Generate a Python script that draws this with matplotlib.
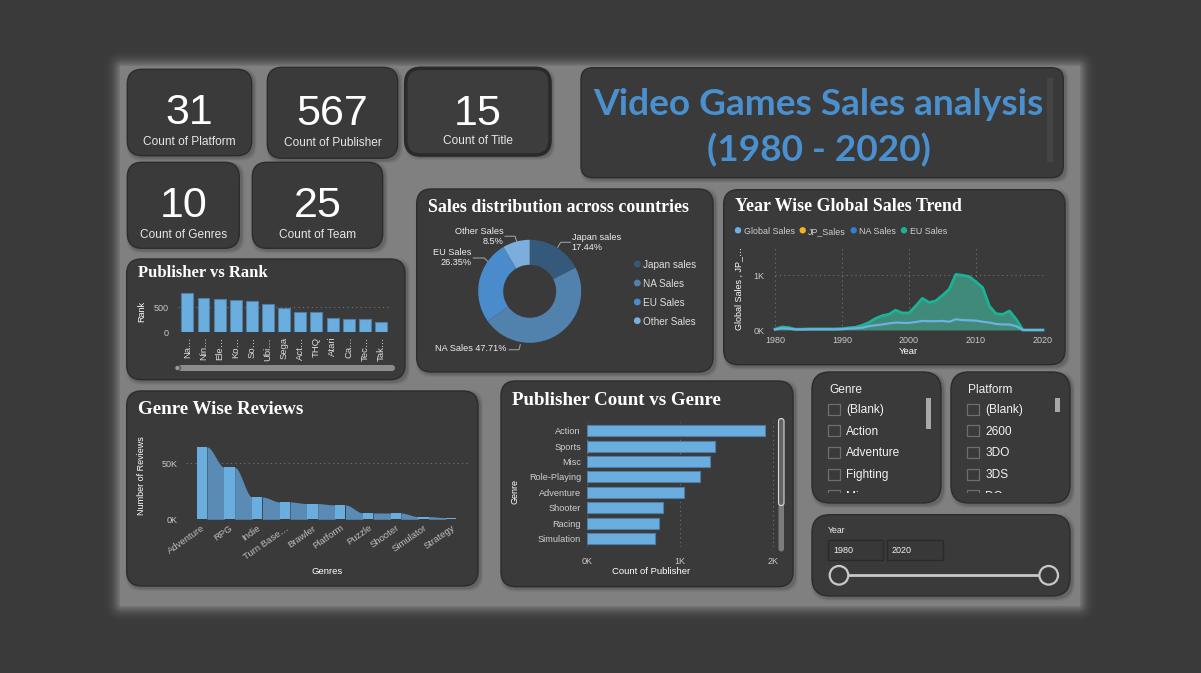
import matplotlib
matplotlib.use("Agg")
import matplotlib.pyplot as plt
import numpy as np
from matplotlib.patches import FancyBboxPatch, Rectangle, Circle
from matplotlib.lines import Line2D

# ---------------- data ----------------
kpi_values = [31, 567, 15, 10, 25]
kpi_labels = ["Count of Platform", "Count of Publisher", "Count of Title",
              "Count of Genres", "Count of Team"]

rank_publishers = ["Na…", "Nin…", "Ele…", "Ko…", "So…", "Ubi…", "Sega",
                   "Act…", "THQ", "Atari", "Ca…", "Tec…", "Tak…"]
rank_values = [784, 682, 669, 655, 628, 574, 486, 412, 410, 284, 270, 257, 196]

review_genres = ["Adventure", "RPG", "Indie", "Turn Base…", "Brawler", "Platform",
                 "Puzzle", "Shooter", "Simulator", "Strategy"]
review_counts = [64600, 46400, 19900, 15500, 14000, 12800, 5700, 5600, 2400, 1500]

pub_genres = ["Action", "Sports", "Misc", "Role-Playing", "Adventure", "Shooter",
              "Racing", "Simulation"]
pub_counts = [1914, 1369, 1319, 1211, 1043, 814, 767, 724]

region_labels = ["Japan sales", "NA Sales", "EU Sales", "Other Sales"]
region_share = [17.44, 47.71, 26.35, 8.5]

years = list(range(1980, 2021))
eu_sales = [15, 55, 45, 15, 15, 20, 20, 20, 20, 20,
            25, 40, 50, 85, 135, 210, 260, 285, 360, 310,
            310, 435, 575, 500, 530, 630, 740, 1010, 995, 970,
            875, 770, 435, 295, 285, 345, 195, 0, 0, 0,
            0]
global_sales = [10, 30, 25, 10, 10, 12, 12, 12, 12, 12,
                15, 25, 30, 40, 70, 85, 100, 120, 135, 130,
                130, 145, 165, 160, 160, 165, 150, 195, 180, 175,
                170, 150, 135, 110, 100, 100, 70, 0, 0, 0,
                0]
trend_legend = ["Global Sales", "JP_Sales", "NA Sales", "EU Sales"]

genre_slicer_items = ["(Blank)", "Action", "Adventure", "Fighting", "Misc"]
platform_slicer_items = ["(Blank)", "2600", "3DO", "3DS", "DC"]
year_range = [1980, 2020]

title_lines = ["Video Games Sales analysis", "(1980 - 2020)"]

# ---------------- styling ----------------
SANS = ['Liberation Sans', 'DejaVu Sans']
SERIF = ['Liberation Serif', 'DejaVu Serif']
HEAD = ['Lato', 'DejaVu Sans']
plt.rcParams['font.family'] = SANS

PANEL = '#3a3a3a'
BAR = '#6aaee0'
BAR_EDGE = '#4e7ea6'
TICK = '#c8c8c8'
GRID = '#747474'
DOT = (0, (1, 3))

W, H = 1201, 673
fig = plt.figure(figsize=(W / 100, H / 100), dpi=100)
fig.patch.set_facecolor('#3a3a3a')

bg = fig.add_axes([0, 0, 1, 1])
bg.set_xlim(0, W)
bg.set_ylim(H, 0)
bg.axis('off')
bg.set_zorder(0)

renderer = fig.canvas.get_renderer()


def ax_px(x, y, w, h):
    a = fig.add_axes([x / W, 1 - (y + h) / H, w / W, h / H])
    a.set_zorder(2)
    a.patch.set_alpha(0)
    for s in a.spines.values():
        s.set_visible(False)
    a.tick_params(length=0, colors=TICK, labelsize=6.5)
    return a


def txt(x, y, s, size, color='white', ha='left', va='baseline', family=SANS,
        weight='normal', **kw):
    return bg.text(x, y, s, fontsize=size, color=color, ha=ha, va=va,
                   family=family, weight=weight, zorder=6, **kw)


def fit(t, width):
    bb = t.get_window_extent(renderer)
    t.set_fontsize(t.get_fontsize() * width / bb.width)
    return t


def panel(x0, y0, x1, y1, r=14, ec='#2c2c2c', lw=1.0, fc=PANEL):
    for k, a in [(3, 0.05), (2, 0.07), (1, 0.09)]:
        bg.add_patch(FancyBboxPatch((x0 + 2, y0 + 2), x1 - x0, y1 - y0,
                                    boxstyle=f"round,pad={k},rounding_size={r}",
                                    fc='black', ec='none', alpha=a, zorder=0.5))
    p = FancyBboxPatch((x0, y0), x1 - x0, y1 - y0,
                       boxstyle=f"round,pad=0,rounding_size={r}",
                       fc=fc, ec=ec, lw=lw, zorder=1)
    bg.add_patch(p)
    return p


# ---------------- canvas + soft glow ----------------
for k in range(20, 0, -1):
    a = 0.045 * np.exp(-((k / 9.0) ** 2)) + 0.004
    bg.add_patch(FancyBboxPatch((120, 66), 960, 540,
                                boxstyle=f"round,pad={k},rounding_size={k + 3}",
                                fc='white', ec='none', alpha=a, zorder=0.1))
bg.add_patch(Rectangle((120, 66), 960, 540, fc='#808080', ec='none', zorder=0.2))

# ---------------- KPI cards ----------------
cards = [(127.3, 69.3, 251.7, 155.7), (267.3, 67.3, 397.7, 158.3),
         (405.7, 68.3, 550, 155), (127.3, 162.3, 239.3, 248.3),
         (252.3, 162.3, 382.7, 248.3)]
num_base = [124.3, 125, 125, 217.3, 217.3]
lab_base = [145.3, 146, 143.6, 237.6, 237.6]
for i, (x0, y0, x1, y1) in enumerate(cards):
    if i == 2:
        panel(x0, y0, x1, y1, r=15, ec='#2a2a2a', lw=2.6, fc='#3d3d3d')
    else:
        panel(x0, y0, x1, y1, r=15)
    cx = (x0 + x1) / 2
    txt(cx, num_base[i], str(kpi_values[i]), 31, ha='center')
    txt(cx, lab_base[i], kpi_labels[i], 8.6, color='#e6e6e6', ha='center')

# ---------------- title box ----------------
panel(581, 67.7, 1063.3, 177.7, r=12)
bg.add_patch(Rectangle((1046.7, 78.3), 6, 83.4, fc='#444444', ec='none', zorder=2))
t1 = txt(818.5, 115, title_lines[0], 24, color='#4a90ce', ha='center',
         family=HEAD, weight='bold')
fit(t1, 451.7)
txt(818.8, 161, title_lines[1], t1.get_fontsize(), color='#4a90ce', ha='center',
    family=HEAD, weight='bold')

# ---------------- Publisher vs Rank ----------------
panel(126.7, 259, 405, 379.7, r=15)
fit(txt(138.3, 277, "Publisher vs Rank", 11, family=SERIF, weight='bold'), 130)
ax1 = ax_px(178, 288, 214, 44)
xr = np.arange(len(rank_values))
ax1.bar(xr, rank_values, width=0.74, color=BAR, edgecolor=BAR_EDGE, lw=0.8, zorder=3)
ax1.set_xlim(-0.58, 12.68)
ax1.set_ylim(0, 892)
ax1.set_yticks([0, 500])
ax1.set_yticklabels(['0', '500'])
ax1.set_xticks(xr)
ax1.set_xticklabels(rank_publishers, rotation=90, fontsize=6.8, color='#dddddd')
ax1.tick_params(axis='y', pad=7)
ax1.tick_params(axis='x', pad=3.5)
ax1.yaxis.grid(True, ls=DOT, color=GRID, lw=0.8)
ax1.set_axisbelow(True)
txt(141.7, 311, "Rank", 6.5, ha='center', va='center', rotation=90)
bg.add_patch(FancyBboxPatch((175, 365), 220, 6, boxstyle="round,pad=0,rounding_size=3",
                            fc='#8c8c8c', ec='none', zorder=2))
bg.add_patch(Circle((177.5, 368), 2.8, fc='#9a9a9a', ec='#3a3a3a', lw=0.8, zorder=3))

# ---------------- Genre Wise Reviews ----------------
panel(126.7, 391, 478, 586, r=15)
fit(txt(138.3, 414.3, "Genre Wise Reviews", 13, family=SERIF, weight='bold'), 165.7)
ax2 = ax_px(186, 440, 282, 79.3)
n = len(review_counts)
bw = 0.37
for i in range(n - 1):
    xs = np.linspace(i + bw / 2, i + 1 - bw / 2, 60)
    t = (xs - xs[0]) / (xs[-1] - xs[0])
    s = t * t * (3 - 2 * t)
    ys = review_counts[i] + (review_counts[i + 1] - review_counts[i]) * s
    ax2.fill_between(xs, 0, ys, color='#5a8bb4', lw=0, zorder=2)
ax2.bar(np.arange(n), review_counts, width=bw, color=BAR, lw=0, zorder=3)
ax2.set_xlim(-0.57, 9.61)
ax2.set_ylim(0, 70800)
ax2.set_yticks([0, 50000])
ax2.set_yticklabels(['0K', '50K'])
ax2.tick_params(axis='y', pad=6)
ax2.set_xticks(np.arange(n))
ax2.set_xticklabels(review_genres, rotation=35, ha='right', rotation_mode='anchor',
                    fontsize=6.8, color='#bdbdbd')
ax2.tick_params(axis='x', pad=3)
ax2.yaxis.grid(True, ls=DOT, color=GRID, lw=0.8)
ax2.set_axisbelow(True)
txt(141.7, 476, "Number of Reviews", 6.5, ha='center', va='center', rotation=90)
txt(326.7, 574, "Genres", 6.8, ha='center')

# ---------------- Publisher Count vs Genre ----------------
panel(501, 381, 793, 586.7, r=15)
fit(txt(511.7, 405, "Publisher Count vs Genre", 13, family=SERIF, weight='bold'), 207.7)
ax3 = ax_px(587.3, 422, 190, 125)
yb = np.arange(len(pub_counts))
ax3.barh(yb, pub_counts, height=0.72, color=BAR, edgecolor=BAR_EDGE, lw=0.8, zorder=3)
ax3.set_ylim(7.54, -0.56)
ax3.set_xlim(0, 2043)
ax3.set_xticks([0, 1000, 2000])
ax3.set_xticklabels(['0K', '1K', '2K'])
ax3.set_yticks(yb)
ax3.set_yticklabels(pub_genres, fontsize=6.6, color='#d0d0d0')
ax3.tick_params(axis='y', pad=4.5)
ax3.tick_params(axis='x', pad=7)
ax3.xaxis.grid(True, ls=DOT, color=GRID, lw=0.8)
ax3.set_axisbelow(True)
txt(514.5, 492, "Genre", 6.5, ha='center', va='center', rotation=90)
txt(651, 574, "Count of Publisher", 6.8, ha='center')
bg.add_patch(FancyBboxPatch((778.5, 418.5), 5.5, 133, boxstyle="round,pad=0,rounding_size=2.7",
                            fc='#7c7c7c', ec='none', zorder=2))
bg.add_patch(FancyBboxPatch((778.5, 418.5), 5.5, 87, boxstyle="round,pad=0,rounding_size=2.7",
                            fc='#626262', ec='#d8d8d8', lw=0.8, zorder=3))

# ---------------- Donut ----------------
panel(416.7, 189, 713, 372, r=15)
fit(txt(427.7, 211.7, "Sales distribution across countries", 12, family=SERIF,
        weight='bold'), 258)
donut_colors = ['#35597a', '#5082ad', '#4a8bcc', '#7caedd']
ax4 = ax_px(469.7, 231.3, 120, 120)
ax4.pie(region_share, radius=51.5, startangle=90, counterclock=False, colors=donut_colors,
        wedgeprops=dict(width=25, edgecolor='none'))
ax4.set_xlim(-60, 60)
ax4.set_ylim(-60, 60)
ax4.set_aspect('equal')
ax4.axis('off')

LC = '#9a9a9a'
fs_d = 6.6
txt(571.7, 240.3, region_labels[0], fs_d, color='#eeeeee')
txt(571.7, 250.3, f"{region_share[0]}%", fs_d, color='#eeeeee')
bg.add_line(Line2D([557.7, 560.7, 570.5], [247.3, 242.3, 242.3], color=LC, lw=0.8, zorder=5))
txt(503.3, 233.7, region_labels[3], fs_d, color='#eeeeee', ha='right')
txt(503.3, 243.7, f"{region_share[3]}%", fs_d, color='#eeeeee', ha='right')
bg.add_line(Line2D([505, 515, 516.7], [236.3, 236.3, 241.3], color=LC, lw=0.8, zorder=5))
txt(471.7, 254.7, region_labels[2], fs_d, color='#eeeeee', ha='right')
txt(471.7, 265.3, f"{region_share[2]}%", fs_d, color='#eeeeee', ha='right')
bg.add_line(Line2D([473.3, 484.3, 487.7], [258, 258, 261.3], color=LC, lw=0.8, zorder=5))
txt(506.7, 351.3, f"{region_labels[1]} {region_share[1]}%", fs_d, color='#eeeeee', ha='right')
bg.add_line(Line2D([509.3, 519, 520.3], [349.7, 349.7, 344.7], color=LC, lw=0.8, zorder=5))

for i, lab in enumerate(region_labels):
    yy = [264, 283, 302, 320.7][i]
    bg.add_patch(Circle((637.3, yy), 3.4, fc=donut_colors[i], ec='none', zorder=5))
    txt(642.7, yy, lab, 7.2, color='#dddddd', va='center_baseline')

# ---------------- Year Wise Global Sales Trend ----------------
panel(723.7, 189.7, 1065, 364.7, r=15)
fit(txt(735.3, 211.3, "Year Wise Global Sales Trend", 12, family=SERIF, weight='bold'), 225.7)
leg_cols = ['#6fb0e4', '#f5b31c', '#2f7fd2', '#1bb396']
leg_cx = [738, 802.7, 853.7, 904]
for i, lab in enumerate(trend_legend):
    bg.add_patch(Circle((leg_cx[i], 230.3), 3.2, fc=leg_cols[i], ec='none', zorder=5))
    txt(leg_cx[i] + 5.5, 230.3, lab, 6.4, color='#cfcfcf', va='center_baseline')
ax5 = ax_px(775, 248, 268, 82)
ax5.set_xlim(1980, 2020)
ax5.set_ylim(0, 1491)
ax5.fill_between(years, eu_sales, color='#3f8a78', lw=0, zorder=2)
ax5.plot(years, eu_sales, color='#1bb396', lw=2.0, zorder=4, clip_on=False,
         solid_joinstyle='round')
ax5.plot(years, global_sales, color='#6fb0e4', lw=1.6, zorder=5, clip_on=False,
         solid_joinstyle='round')
ax5.set_xticks([1980, 1990, 2000, 2010, 2020])
ax5.set_yticks([0, 1000])
ax5.set_yticklabels(['0K', '1K'])
ax5.tick_params(axis='y', pad=7.5)
ax5.tick_params(axis='x', pad=4)
ax5.grid(True, ls=DOT, color=GRID, lw=0.8)
ax5.set_axisbelow(True)
txt(738.7, 289, "Global Sales , JP_…", 6.5, ha='center', va='center', rotation=90)
txt(908.7, 353.7, "Year", 6.8, ha='center')

# ---------------- slicers ----------------
def slicer(x0, x1, header, items, sb_h):
    panel(x0, 372, x1, 503, r=18)
    txt(x0 + 17, 393, header, 8.6, color='#f0f0f0')
    clip = Rectangle((x0, 380), x1 - x0, 112.5, transform=bg.transData)
    for j, it in enumerate(items):
        base = 413 + j * 21.7
        r = Rectangle((x0 + 16.3, base - 9.5), 11.5, 11, fc='none', ec='#6e6e6e', lw=0.9, zorder=5)
        bg.add_patch(r)
        r.set_clip_path(clip)
        t = txt(x0 + 34.3, base, it, 8.6, color='#f2f2f2')
        t.set_clip_on(True)
        t.set_clip_path(clip)
    bg.add_patch(Rectangle((x1 - 15.5, 398), 5.5, sb_h, fc='#a8a8a8', ec='none', zorder=5))


slicer(812, 941, "Genre", genre_slicer_items, 30.7)
slicer(951, 1070, "Platform", platform_slicer_items, 14.3)

panel(812, 514.7, 1070, 596, r=18)
txt(828, 533, "Year", 6.2, color='#f0f0f0')
for k, (bx0, bx1) in enumerate([(828, 882.7), (887, 942.7)]):
    bg.add_patch(Rectangle((bx0, 540.3), bx1 - bx0, 19.4, fc='#383838', ec='#2a2a2a', lw=1.0, zorder=5))
    txt(bx0 + 5, 553, str(year_range[k]), 6.5, color='#f0f0f0')
bg.add_line(Line2D([839, 1048.7], [575.3, 575.3], color='#c8c8c8', lw=2, zorder=5))
for cx in (839, 1048.7):
    bg.add_patch(Circle((cx, 575.3), 9.3, fc=PANEL, ec='#c8c8c8', lw=1.6, zorder=6))

fig.savefig("out.png", dpi=100, facecolor=fig.get_facecolor())
